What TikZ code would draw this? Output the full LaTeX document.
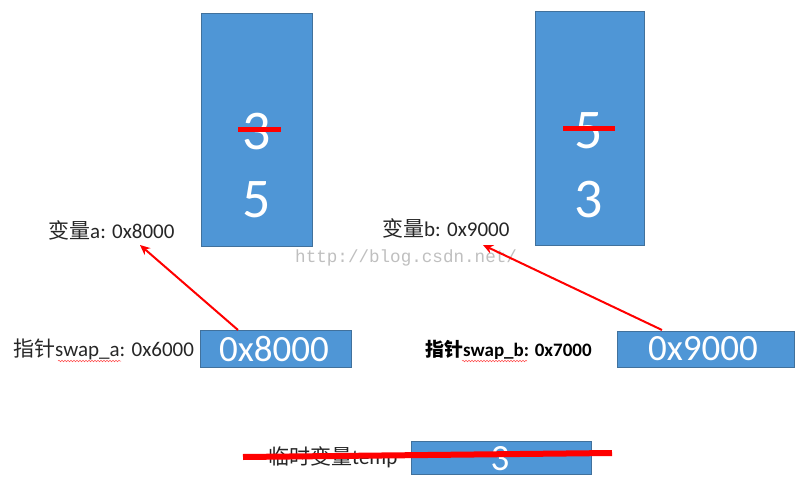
\documentclass[tikz,border=0pt]{standalone}
\usepackage{fontspec}
\setmainfont{Carlito}
\newfontfamily\cjk{Noto Sans CJK SC}
\newfontfamily\wm{Liberation Mono}
\usetikzlibrary{arrows.meta,decorations.pathmorphing}
\definecolor{boxblue}{RGB}{79,150,214}
\definecolor{boxedge}{RGB}{65,113,156}
\tikzset{
  membox/.style={draw=boxedge, line width=0.6pt, fill=boxblue},
  bignum/.style={text=white, font=\fontsize{56}{56}\selectfont, inner sep=0pt},
  addrnum/.style={text=white, font=\fontsize{37}{37}\selectfont, inner sep=0pt},
  lbl/.style={anchor=west, inner sep=0pt, font=\fontsize{21}{21}\selectfont, text=black!85},
  strike/.style={draw=red, line width=5pt},
  ptr/.style={draw=red, line width=2pt, -{Stealth[length=10pt,width=9pt]}},
  spell/.style={draw=red!70, line width=0.5pt, decorate, decoration={snake, amplitude=0.8pt, segment length=3pt}}
}
\begin{document}
\begin{tikzpicture}[x=1pt,y=-1pt]
\useasboundingbox (0,0) rectangle (803,484);
% memory cells a and b
\draw[membox] (201,13) rectangle (312,246);
\node[bignum] (a1) at (257,132) {3};
\node[bignum] (a2) at (257,200) {5};
\coordinate (sa1) at (238,130);
\coordinate (sa2) at (281,130);
\draw[strike] (sa1) -- (sa2);

\draw[membox] (535,11) rectangle (644,245);
\node[bignum] (b1) at (589,131) {5};
\node[bignum] (b2) at (589,200) {3};
\coordinate (sb1) at (563,129);
\coordinate (sb2) at (615,129);
\draw[strike] (sb1) -- (sb2);

% labels for variables
\node[lbl] (va) at (48,230) {{\cjk 变量}a: 0x8000};
\node[lbl] (vb) at (382,228) {{\cjk 变量}b: 0x9000};

% watermark
\node[anchor=west, inner sep=0pt, text=black!25, font=\wm\fontsize{17.6}{17.6}\selectfont] (wm) at (295,258) {http://blog.csdn.net/};

% pointer cells
\draw[membox] (200,330) rectangle (351,367);
\node[addrnum] (pa) at (274,349) {0x8000};
\draw[membox] (617,331) rectangle (794,367);
\node[addrnum] (pb) at (703,349) {0x9000};

\node[lbl] (la) at (13,349) {{\cjk 指针}swap\_a: 0x6000};
\node[lbl, font=\bfseries\fontsize{19}{19}\selectfont, text=black] (lb) at (425,350) {{\cjk\bfseries 指针}swap\_b: 0x7000};
\coordinate (wa1) at (58,361);
\coordinate (wa2) at (121,361);
\draw[spell] (wa1) -- (wa2);
\coordinate (wb1) at (462,361);
\coordinate (wb2) at (527,361);
\draw[spell] (wb1) -- (wb2);

% arrows
\coordinate (pastart) at (238,330);
\coordinate (paend) at (140,245);
\draw[ptr] (pastart) -- (paend);
\coordinate (pbstart) at (662,330);
\coordinate (pbend) at (483,245);
\draw[ptr] (pbstart) -- (pbend);

% temp
\draw[membox] (411,441) rectangle (591,474);
\node[addrnum] (t) at (500,459) {3};
\node[lbl] (lt) at (268,457) {{\cjk 临时变量}temp};
\coordinate (st1) at (243,457);
\coordinate (st2) at (612,453);
\draw[strike, line width=6pt] (st1) -- (st2);
\end{tikzpicture}
\end{document}
